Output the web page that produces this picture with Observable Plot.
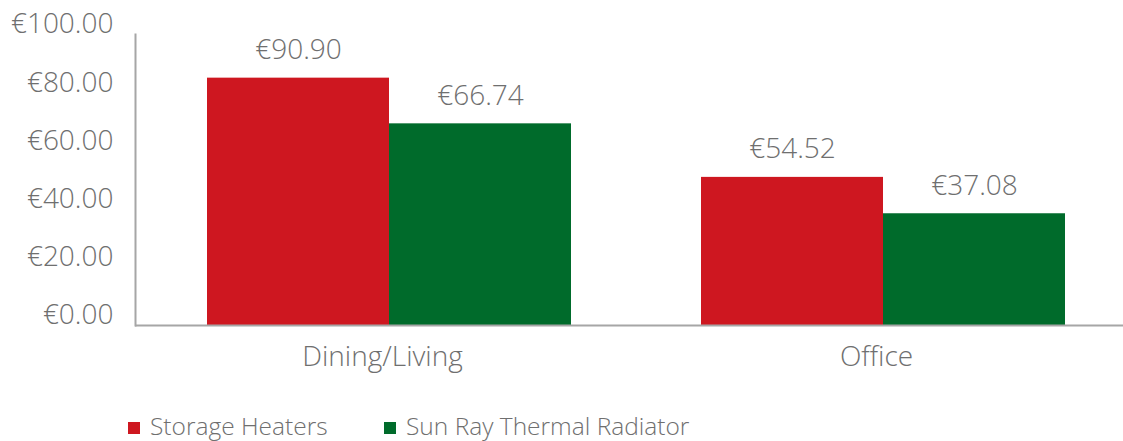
<!DOCTYPE html>
<html>
<head>
<meta charset="utf-8">
<script src="https://cdn.jsdelivr.net/npm/d3@7"></script>
<script src="https://cdn.jsdelivr.net/npm/@observablehq/plot@0.6"></script>
<style>
  body { margin: 0; background: #fff; font-family: "Open Sans", sans-serif; }
  #chart svg { display: block; }
  #legend { position: relative; height: 41px; width: 1123px; color: #6f6f6f; font-size: 24.5px; font-weight: 300; line-height: 28px; overflow: hidden; }
  .item { position: absolute; top: 12px; display: flex; align-items: center; white-space: nowrap; }
  .sw { width: 12px; height: 12px; margin-right: 10px; margin-top: 3px; }
</style>
</head>
<body>
<div id="chart"></div>
<div id="legend"></div>
<script>
const categories = ["Dining/Living", "Office"];
const series = ["Storage Heaters", "Sun Ray Thermal Radiator"];
// bar heights as drawn in the picture
const storageHeaters = [85.0, 50.9];
const sunRayRadiator = [69.3, 38.4];
// printed data labels
const storageLabels = ["€90.90", "€54.52"];
const sunRayLabels = ["€66.74", "€37.08"];
const yTicks = [0, 20, 40, 60, 80, 100];
const colors = ["#CE1720", "#006B2B"];

const data = [];
categories.forEach((c, i) => {
  data.push({category: c, series: series[0], value: storageHeaters[i], label: storageLabels[i]});
  data.push({category: c, series: series[1], value: sunRayRadiator[i], label: sunRayLabels[i]});
});

const textColor = "#6f6f6f";
const axisColor = "#a6a6a6";

const chart = Plot.plot({
  width: 1123,
  height: 400,
  marginTop: 34,
  marginBottom: 75,
  marginLeft: 134,
  marginRight: 0,
  style: {fontFamily: "'Open Sans', sans-serif", fontSize: "28px", fontWeight: 300, color: textColor, background: "#fff"},
  fx: {domain: categories, paddingInner: 0, paddingOuter: 0, label: null},
  x: {domain: series, paddingInner: 0, paddingOuter: 0.356, align: 0.55, axis: null},
  y: {domain: [0, 100], label: null},
  color: {domain: series, range: colors},
  marks: [
    Plot.barY(data, {fx: "category", x: "series", y: "value", fill: "series"}),
    Plot.text(data, {fx: "category", x: "series", y: "value", text: "label", dy: -28, fill: textColor, fontSize: 28, fontWeight: 300}),
    Plot.ruleY([0], {stroke: axisColor, strokeWidth: 2}),
    Plot.frame({anchor: "left", facetAnchor: "left", stroke: axisColor, strokeWidth: 2}),
    Plot.axisY({ticks: yTicks, tickFormat: d => "€" + d.toFixed(2), tickSize: 0, tickPadding: 22, dy: -10, label: null, fill: textColor, fontSize: 28}),
    Plot.axisFx({anchor: "bottom", tickSize: 0, tickPadding: 21, label: null, fill: textColor, fontSize: 28})
  ]
});
document.getElementById("chart").appendChild(chart);

const legend = document.getElementById("legend");
const legendX = [128, 384];
series.forEach((s, i) => {
  const item = document.createElement("div");
  item.className = "item";
  item.style.left = legendX[i] + "px";
  const sw = document.createElement("span");
  sw.className = "sw";
  sw.style.background = colors[i];
  const t = document.createElement("span");
  t.textContent = s;
  item.appendChild(sw);
  item.appendChild(t);
  legend.appendChild(item);
});
</script>
</body>
</html>
